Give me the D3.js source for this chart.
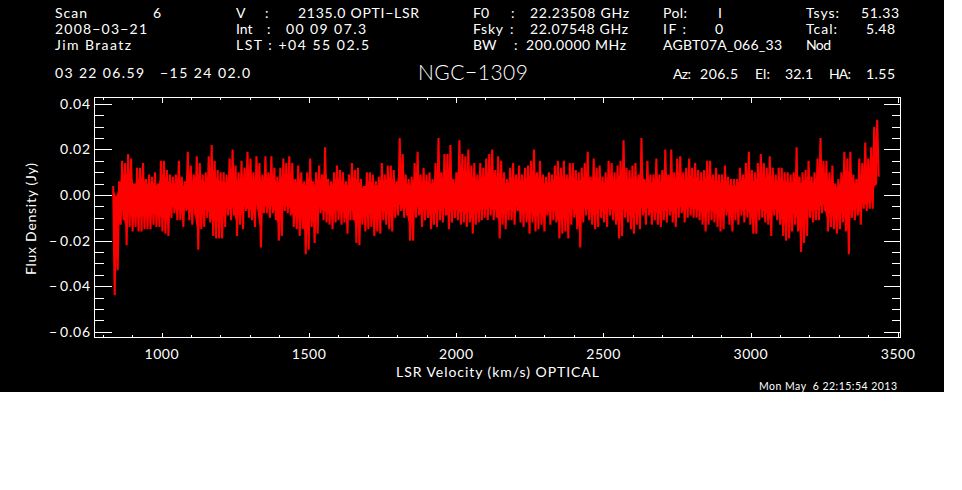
<!DOCTYPE html>
<html>
<head>
<meta charset="utf-8">
<script src="https://cdn.jsdelivr.net/npm/d3@7"></script>
<style>
  html, body { margin: 0; padding: 0; background: #fff; }
  svg { display: block; }
  text { font-family: "Lato", "Liberation Sans", sans-serif; font-weight: 400; fill: #fff; }
</style>
</head>
<body>
<div id="chart"></div>
<script>
// spectrum: top and bottom of each zigzag, in mJy
const hi1 = [4,-1,6,15,14,18,16,5,12,12,14,7,9,8,10, 5,15,15,11,9,8,9,15,8,6,19,13,9,17,14, 9,10,17,22,15,11,10,10,9,16,20,13,10];
const lo1 = [-44,-33,-13,-11,-22,-14,-16,-14,-16,-16,-15,-15,-15,-13,-14, -14,-16,-17,-18,-10,-8,-11,-11,-14,-7,-11,-13,-9,-24,-15, -14,-10,-12,-18,-19,-19,-19,-14,-9,-11,-9,-18,-13];
const hi2 = [15,12,19,16,10,17,14,9,17,10,17,12,8,12,16, 14,17,14,7,13,10,6,10,16,6,10,13,9,21,7, 6,10,13,11,10,6,9,14,11,12,7,4,10,10,9];
const lo2 = [-15,-7,-10,-11,-14,-6,-23,-8,-8,-10,-8,-11,-20,-18,-7, -8,-9,-14,-15,-18,-15,-26,-24,-14,-21,-17,-8,-11,-12,-13, -15,-12,-11,-13,-12,-17,-11,-11,-21,-22,-13,-16,-15,-14,-18];
const hi3 = [6,8,14,9,13,13,11,6,25,18,9,7,8,14,19, 9,12,9,10,7,14,25,10,18,18,22,7,10,24,18, 17,20,13,14,9,14,12,16,18,20,11,17,15,10,7];
const lo3 = [-16,-17,-11,-13,-15,-16,-10,-9,-7,-10,-9,-20,-20,-10,-9, -14,-11,-10,-15,-13,-14,-11,-12,-9,-15,-12,-10,-11,-13,-12, -14,-12,-17,-13,-12,-11,-10,-11,-9,-11,-10,-19,-13,-15,-11];
const hi4 = [12,14,9,13,9,12,13,15,20,10,15,9,8,10,9, 13,15,12,15,9,14,14,11,10,12,14,19,8,16,12, 13,8,10,15,14,10,13,15,24,12,11,13,14,9,25];
const lo4 = [-11,-13,-7,-12,-14,-12,-17,-12,-16,-15,-13,-16,-9,-13,-11, -12,-19,-17,-16,-19,-13,-10,-15,-23,-12,-9,-11,-13,-15,-14, -10,-12,-14,-9,-11,-13,-19,-18,-10,-12,-15,-17,-13,-15,-9];
const hi5 = [7,15,9,9,16,9,11,20,9,20,10,16,17,10,12, 16,12,14,11,10,11,15,15,9,12,9,9,13,8,7, 7,7,12,9,14,19,11,10,14,18,14,12,17,12,9];
const lo5 = [-13,-9,-13,-11,-13,-14,-11,-12,-9,-12,-14,-10,-8,-12,-10, -9,-10,-10,-11,-13,-16,-13,-11,-12,-14,-16,-15,-9,-13,-16, -11,-13,-9,-12,-10,-13,-17,-17,-11,-10,-12,-13,-18,-9,-11];
const hi6 = [12,12,10,10,9,10,21,8,10,11,15,8,10,16,25, 15,15,10,13,5,7,10,19,16,19,9,7,16,14,23, 16,21,30,33];
const lo6 = [-13,-18,-20,-19,-16,-13,-16,-25,-21,-18, -10,-12,-11,-11,-8,-7,-16,-14,-15,-17, -15,-12,-16,-26,-10,-11,-9,-13,-6,-7, -6,-6,6,8];

const fluxHi = [].concat(hi1, hi2, hi3, hi4, hi5, hi6);
const fluxLo = [].concat(lo1, lo2, lo3, lo4, lo5, lo6);
const velStart = 836, velEnd = 3440;

const xTicks = [1000, 1500, 2000, 2500, 3000, 3500];
const yTicks = [-0.06, -0.04, -0.02, 0.00, 0.02, 0.04];

const width = 962, height = 490;
const left = 94.5, right = 900.5, top_ = 97.5, bottom = 337.5;

const svg = d3.select("#chart").append("svg")
    .attr("width", width)
    .attr("height", height);

svg.append("rect")
    .attr("width", 944)
    .attr("height", 392)
    .attr("fill", "#000");

const x = d3.scaleLinear().domain([772.5, 3509]).range([left, right]);
const y = d3.scaleLinear().domain([-0.0625, 0.0428]).range([bottom, top_]);

// draws one set of ticks, white lines only
function ticks(axis, tx, ty, size, vals, scale) {
    const g = svg.append("g")
        .attr("transform", `translate(${tx},${ty})`)
        .call(axis(scale).tickValues(vals).tickSize(size).tickFormat(""));
    g.select(".domain").remove();
    g.selectAll("line").attr("stroke", "#fff").attr("shape-rendering", "crispEdges");
}

const xMinor = d3.range(800, 3501, 100);
const yMinor = d3.range(-60, 41, 5).map(d => d / 1000);

ticks(d3.axisBottom, 0, bottom, -2.5, xMinor, x);
ticks(d3.axisBottom, 0, bottom, -5, xTicks, x);
ticks(d3.axisTop, 0, top_, -2.5, xMinor, x);
ticks(d3.axisTop, 0, top_, -5, xTicks, x);
ticks(d3.axisLeft, left, 0, -9, yMinor, y);
ticks(d3.axisLeft, left, 0, -17, yTicks, y);
ticks(d3.axisRight, right, 0, -9, yMinor, y);
ticks(d3.axisRight, right, 0, -17, yTicks, y);

svg.append("rect")
    .attr("x", left)
    .attr("y", top_)
    .attr("width", right - left)
    .attr("height", bottom - top_)
    .attr("fill", "none")
    .attr("stroke", "#fff")
    .attr("shape-rendering", "crispEdges");

// the spectrum goes up and down between the two arrays
const step = (velEnd - velStart) / fluxHi.length;
const trace = [];
fluxHi.forEach(function(d, i) {
    trace.push([velStart + i * step, d / 1000]);
    trace.push([velStart + (i + 0.5) * step, fluxLo[i] / 1000]);
});

const line = d3.line()
    .x(d => x(d[0]))
    .y(d => y(d[1]));

// too many channels to tell apart, the middle of the band is solid red
const core = d3.area()
    .x((d, i) => x(velStart + i * step))
    .y0((d, i) => y(fluxLo[i] * 0.6 / 1000))
    .y1((d, i) => y(d * 0.6 / 1000));

svg.append("path")
    .datum(fluxHi)
    .attr("d", core)
    .attr("fill", "#f00");

svg.append("path")
    .datum(trace)
    .attr("d", line)
    .attr("fill", "none")
    .attr("stroke", "#f00")
    .attr("stroke-width", 2.1)
    .attr("stroke-linejoin", "bevel");

// text helper, w forces the width seen in the picture
function label(px, py, str, w, size) {
    const t = svg.append("text")
        .attr("x", px)
        .attr("y", py)
        .attr("font-size", size || 14)
        .text(str);
    if (w) t.attr("textLength", w).attr("lengthAdjust", "spacing");
    return t;
}

label(55, 18, "Scan", 32);
label(153, 18, "6");
label(55, 34, "2008\u221203\u221221", 92);
label(55, 50, "Jim Braatz", 76);
label(55, 78, "03 22 06.59", 89);
label(160, 78, "\u221215 24 02.0", 90);

label(236, 18, "V");
label(265, 18, ":");
label(298, 18, "2135.0 OPTI\u2212LSR", 121);
label(236, 34, "Int");
label(267, 34, ":");
label(286, 34, "00 09 07.3", 80);
label(236, 50, "LST : +04 55 02.5", 133);

label(473, 18, "F0");
label(511, 18, ":");
label(530, 18, "22.23508 GHz", 99);
label(473, 34, "Fsky", 30);
label(510, 34, ":");
label(530, 34, "22.07548 GHz", 98);
label(473, 50, "BW");
label(514, 50, ":");
label(526, 50, "200.0000 MHz", 100);

label(663, 18, "Pol:", 24);
label(718, 18, "I");
label(663, 34, "IF :", 23);
label(715, 34, "0");
label(663, 50, "AGBT07A_066_33", 119);

label(806, 18, "Tsys:", 33);
label(861, 18, "51.33", 38);
label(806, 34, "Tcal:", 31);
label(866, 34, "5.48", 29);
label(806, 50, "Nod", 25);

label(418, 80, "NGC\u22121309", 110, 21).style("font-weight", 300);

label(673, 79, "Az:", 18);
label(700, 79, "206.5", 38);
label(755, 79, "El:", 15);
label(785, 79, "32.1", 28);
label(829, 79, "HA:", 22);
label(866, 79, "1.55", 29);

// axis numbers
xTicks.forEach(function(d) {
    label(x(d), 359, d3.format("d")(d), 34).attr("text-anchor", "middle");
});
yTicks.forEach(function(d) {
    label(90, y(d) + 5, d3.format(".2f")(Math.abs(d)), 30).attr("text-anchor", "end");
    if (d < 0) label(49, y(d) + 5, "\u2212");
});

label(396, 377, "LSR Velocity (km/s) OPTICAL", 203);
label(0, 0, "Flux Density (Jy)", 112)
    .attr("transform", "translate(36,275) rotate(-90)");
label(759, 390, "Mon May  6 22:15:54 2013", 138, 10.5).style("white-space", "pre");
</script>
</body>
</html>
